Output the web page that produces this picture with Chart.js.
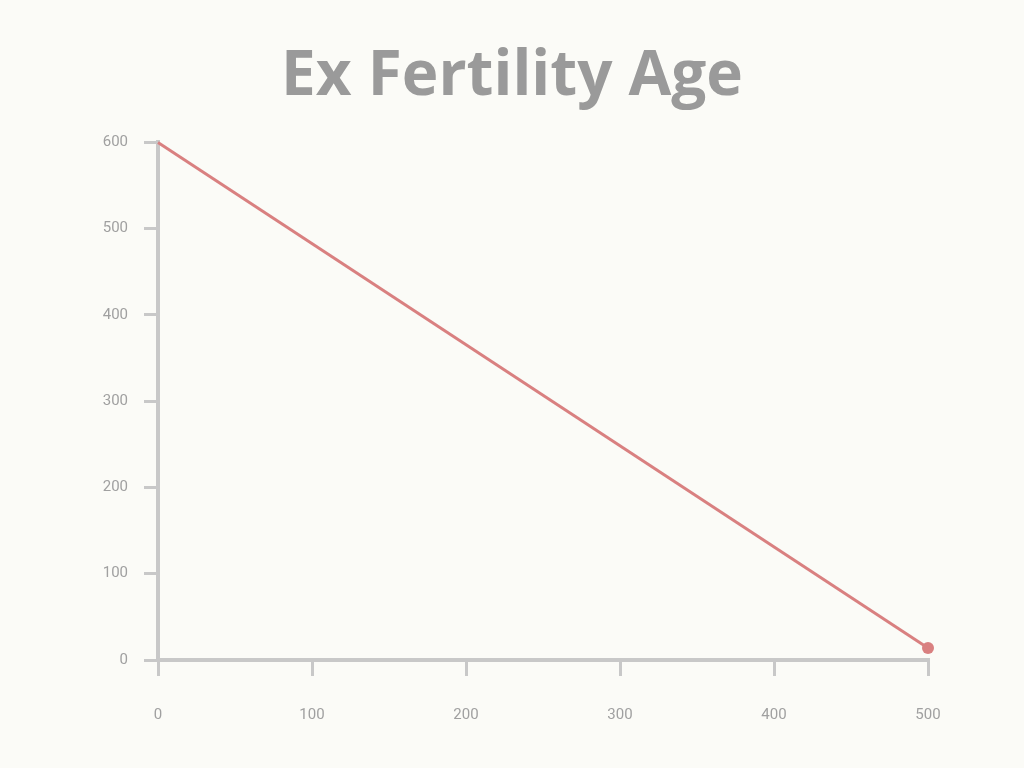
<!DOCTYPE html>
<html>
<head>
<meta charset="utf-8">
<script src="https://cdn.jsdelivr.net/npm/chart.js@4"></script>
<style>
html,body{margin:0;padding:0;background:#fbfbf7;}
canvas{display:block;}
</style>
</head>
<body>
<canvas id="c" width="1024" height="768"></canvas>
<script>
const titleText = "Ex Fertility Age";
const xValues = [0, 500];
const yValues = [600, 14];
const xTicks = [0, 100, 200, 300, 400, 500];
const yTicks = [0, 100, 200, 300, 400, 500, 600];

const points = xValues.map((x, i) => ({x: x, y: yValues[i]}));

new Chart(document.getElementById('c'), {
  type: 'line',
  data: {
    datasets: [{
      data: points,
      borderColor: '#d98080',
      backgroundColor: '#d98080',
      borderWidth: 3,
      pointRadius: [0, 6],
      pointBorderWidth: 0,
      tension: 0,
      clip: false
    }]
  },
  options: {
    responsive: false,
    animation: false,
    layout: {padding: 0},
    plugins: {
      legend: {display: false},
      tooltip: {enabled: false},
      title: {
        display: true,
        text: titleText,
        color: '#9a9a9a',
        font: {family: 'Open Sans', size: 62, weight: 'bold'},
        padding: {top: 40, bottom: 28}
      }
    },
    scales: {
      x: {
        type: 'linear',
        min: xTicks[0],
        max: xTicks[xTicks.length - 1],
        afterBuildTicks: s => { s.ticks = xTicks.map(v => ({value: v})); },
        afterFit: s => { s.height = 108; },
        grid: {drawOnChartArea: false, color: '#c8c8c8', lineWidth: 3, tickLength: 16},
        border: {color: '#c8c8c8', width: 4},
        ticks: {color: '#a0a0a0', font: {family: 'Roboto', size: 15}, padding: 30}
      },
      y: {
        type: 'linear',
        min: yTicks[0],
        max: yTicks[yTicks.length - 1],
        afterBuildTicks: s => { s.ticks = yTicks.map(v => ({value: v})); },
        afterFit: s => { s.width = 158; },
        grid: {drawOnChartArea: false, color: '#c8c8c8', lineWidth: 3, tickLength: 14},
        border: {color: '#c8c8c8', width: 4},
        ticks: {color: '#a0a0a0', font: {family: 'Roboto', size: 15}, padding: 16}
      },
      yRight: {
        position: 'right',
        display: true,
        afterFit: s => { s.width = 96; },
        grid: {display: false},
        border: {display: false},
        ticks: {display: false}
      }
    }
  }
});
</script>
</body>
</html>
